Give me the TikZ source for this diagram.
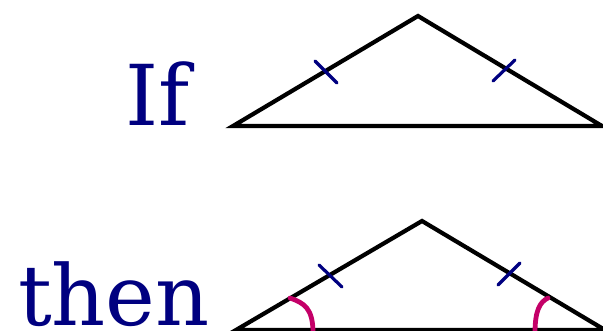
\documentclass[tikz,border=0pt]{standalone}
\usepackage{fontspec}
\setmainfont{DejaVu Serif}
\definecolor{navy}{RGB}{0,0,128}
\definecolor{angmag}{RGB}{196,0,104}
\tikzset{
  tri/.style={draw=black, line width=4.2pt, line join=miter},
  tick/.style={draw=navy, line width=3.2pt, line cap=round},
  angarc/.style={draw=angmag, line width=4.8pt, line cap=round},
  word/.style={text=navy, font=\fontsize{84}{84}\selectfont, inner sep=0pt, anchor=base east}
}
\begin{document}
\begin{tikzpicture}[x=1pt,y=-1pt]
\useasboundingbox (0,0) rectangle (603,331);
\clip (0,0) rectangle (603,331);
% top triangle
\coordinate (A1) at (233,126);
\coordinate (B1) at (418,16);
\coordinate (C1) at (602,126);
\draw[tri] (A1) -- (B1) -- (C1) -- cycle;
\coordinate (t1a) at (315,61);
\coordinate (t1b) at (337,83);
\coordinate (t2a) at (515,60);
\coordinate (t2b) at (493,81);
\draw[tick] (t1a) -- (t1b);
\draw[tick] (t2a) -- (t2b);
\node[word] (if) at (190,126) {If};
% bottom triangle
\coordinate (A2) at (236,330);
\coordinate (B2) at (422,221);
\coordinate (C2) at (605,330);
\draw[tri] (A2) -- (B2) -- (C2) -- cycle;
\coordinate (t3a) at (319,265);
\coordinate (t3b) at (342,287);
\coordinate (t4a) at (520,263);
\coordinate (t4b) at (498,285);
\draw[tick] (t3a) -- (t3b);
\draw[tick] (t4a) -- (t4b);
\coordinate (a1s) at (290,298);
\coordinate (a1e) at (313,333);
\coordinate (a2s) at (548,298);
\coordinate (a2e) at (535,333);
\draw[angarc] (a1s) .. controls (304,303) and (313,308) .. (a1e);
\draw[angarc] (a2s) .. controls (540,302) and (535,310) .. (a2e);
\node[word] (then) at (210,326) {then};
\end{tikzpicture}
\end{document}
